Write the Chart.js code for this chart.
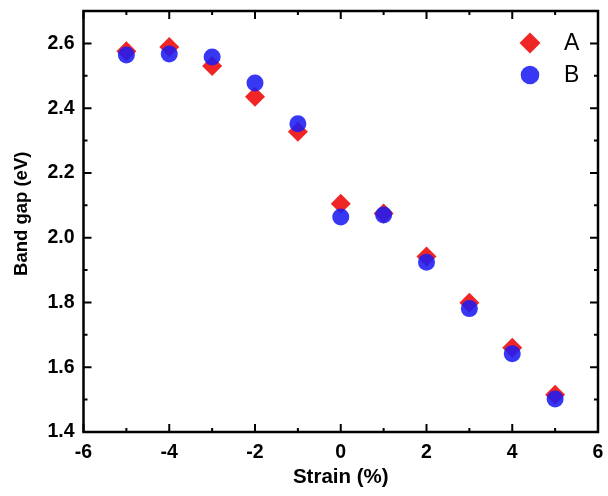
<!DOCTYPE html>
<html>
<head>
<meta charset="utf-8">
<script src="https://cdn.jsdelivr.net/npm/chart.js@4/dist/chart.umd.min.js"></script>
<style>
html,body{margin:0;padding:0;background:#fff;}
#wrap{width:608px;height:496px;position:relative;}
</style>
</head>
<body>
<div id="wrap"><canvas id="c" width="608" height="496"></canvas></div>
<script>
const strain = [-5, -4, -3, -2, -1, 0, 1, 2, 3, 4, 5];
const gapA = [2.576, 2.589, 2.530, 2.435, 2.327, 2.105, 2.075, 1.942, 1.799, 1.660, 1.515];
const gapB = [2.564, 2.567, 2.558, 2.478, 2.352, 2.064, 2.070, 1.924, 1.781, 1.642, 1.502];
const seriesNames = ['A', 'B'];
const xTickLabels = ['-6', '-4', '-2', '0', '2', '4', '6'];
const yTickLabels = ['1.4', '1.6', '1.8', '2.0', '2.2', '2.4', '2.6'];

const RED = 'rgb(240,38,38)';
const BLUE = 'rgba(28,28,242,0.88)';
const FONT = 'Liberation Sans, Arial, sans-serif';

const toPts = (ys) => strain.map((x, i) => ({x: x, y: ys[i]}));

const framePlugin = {
  id: 'frame',
  afterDraw(chart) {
    const {ctx, chartArea: a, scales} = chart;
    ctx.save();
    ctx.strokeStyle = '#000';
    ctx.lineWidth = 2.5;
    ctx.strokeRect(a.left, a.top, a.right - a.left, a.bottom - a.top);
    ctx.lineWidth = 2;
    scales.x.ticks.forEach(t => {
      const v = t.value;
      const px = scales.x.getPixelForValue(v);
      const len = (Math.round(v) % 2 === 0) ? 8 : 4;
      ctx.beginPath();
      ctx.moveTo(px, a.bottom); ctx.lineTo(px, a.bottom - len);
      ctx.moveTo(px, a.top); ctx.lineTo(px, a.top + len);
      ctx.stroke();
    });
    scales.y.ticks.forEach(t => {
      const v = t.value;
      const py = scales.y.getPixelForValue(v);
      const len = (Math.round(v * 10) % 2 === 0) ? 8 : 4;
      ctx.beginPath();
      ctx.moveTo(a.left, py); ctx.lineTo(a.left + len, py);
      ctx.moveTo(a.right, py); ctx.lineTo(a.right - len, py);
      ctx.stroke();
    });
    ctx.restore();
  }
};

const legendPlugin = {
  id: 'customLegend',
  afterDraw(chart) {
    const {ctx} = chart;
    ctx.save();
    const x0 = 530, y0 = 43, gap = 32;
    chart.data.datasets.forEach((ds, i) => {
      const y = y0 + i * gap;
      ctx.fillStyle = ds.backgroundColor;
      ctx.strokeStyle = ds.backgroundColor;
      Chart.helpers.drawPoint(ctx, {
        pointStyle: ds.pointStyle,
        rotation: 0,
        radius: ds.pointStyle === 'rectRot' ? 10.5 : 9.3,
        borderWidth: 0
      }, x0, y);
      ctx.fillStyle = '#000';
      ctx.font = '23px ' + FONT;
      ctx.textBaseline = 'middle';
      ctx.textAlign = 'left';
      ctx.fillText(ds.label, 564, y + 1);
    });
    ctx.restore();
  }
};

new Chart(document.getElementById('c'), {
  type: 'scatter',
  data: {
    datasets: [
      {label: seriesNames[0], data: toPts(gapA), pointStyle: 'rectRot', pointRadius: 10,
       pointHoverRadius: 10, backgroundColor: RED, borderColor: RED, borderWidth: 0, order: 2},
      {label: seriesNames[1], data: toPts(gapB), pointStyle: 'circle', pointRadius: 8.5,
       pointHoverRadius: 8.5, backgroundColor: BLUE, borderColor: BLUE, borderWidth: 0, order: 1}
    ]
  },
  options: {
    responsive: false,
    animation: false,
    events: [],
    layout: {padding: {left: 0, top: 11, right: 2.5, bottom: 0}},
    plugins: {legend: {display: false}, tooltip: {enabled: false}},
    scales: {
      x: {
        type: 'linear', min: -6, max: 6,
        grid: {display: false, drawTicks: false},
        border: {display: false},
        ticks: {
          stepSize: 1, autoSkip: false, maxRotation: 0, padding: 9,
          color: '#000', font: {family: FONT, size: 19.5, weight: 'bold'},
          callback: (v) => { const s = String(v); return xTickLabels.includes(s) ? s : ''; }
        },
        title: {display: true, text: 'Strain (%)', color: '#000',
          font: {family: FONT, size: 20.5, weight: 'bold'}, padding: {top: 0, bottom: 6}},
        afterFit: (s) => { s.height = 64; s.paddingLeft = 0; s.paddingRight = 0; }
      },
      y: {
        type: 'linear', min: 1.4, max: 2.7,
        grid: {display: false, drawTicks: false},
        border: {display: false},
        ticks: {
          stepSize: 0.1, autoSkip: false, padding: 9,
          color: '#000', font: {family: FONT, size: 19.5, weight: 'bold'},
          callback: (v) => { const s = Number(v).toFixed(1); return yTickLabels.includes(s) ? s : ''; }
        },
        title: {display: true, text: '   Band gap (eV)', color: '#000',
          font: {family: FONT, size: 18.5, weight: 'bold'}, padding: {top: 11, bottom: 0}},
        afterFit: (s) => { s.width = 83.5; s.paddingTop = 0; s.paddingBottom = 0; }
      }
    }
  },
  plugins: [framePlugin, legendPlugin]
});
</script>
</body>
</html>
